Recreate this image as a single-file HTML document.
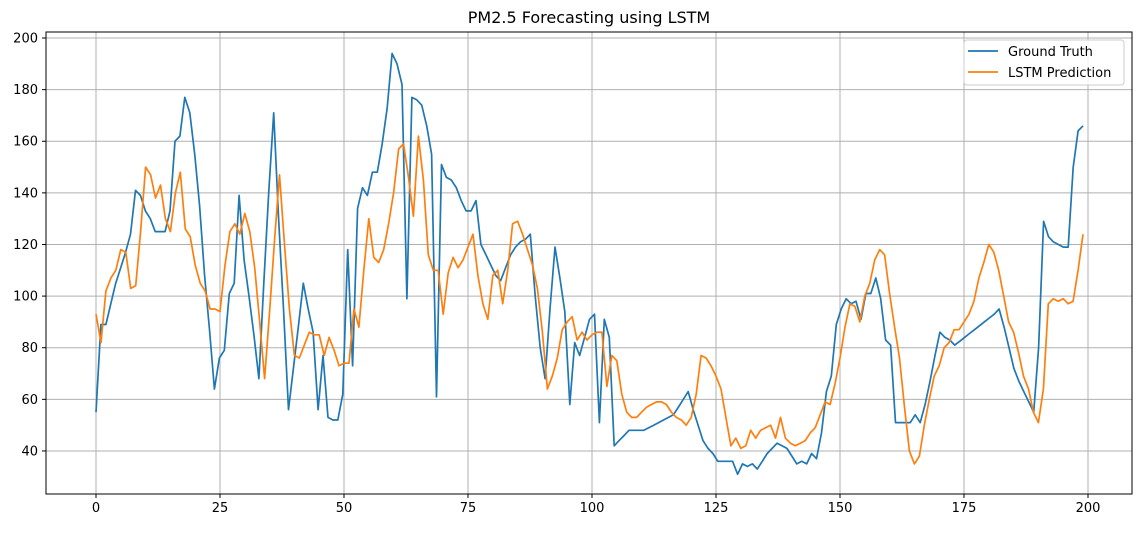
<!DOCTYPE html>
<html><head><meta charset="utf-8"><style>
body{margin:0;background:#fff;}
svg text{font-family:"DejaVu Sans","Liberation Sans",sans-serif;}
</style></head><body>
<svg id="s" width="1141" height="528" xmlns="http://www.w3.org/2000/svg">
<rect width="1141" height="528" fill="#fff"/>
<g id="grid" stroke="#b0b0b0" stroke-width="1"></g>
<g id="ticks" font-size="13" fill="#000"></g>
<polyline id="gt" fill="none" stroke="#1f77b4" stroke-width="1.7" stroke-linejoin="round"/>
<polyline id="lp" fill="none" stroke="#ff7f0e" stroke-width="1.7" stroke-linejoin="round"/>
<rect x="46" y="32" width="1086" height="462" fill="none" stroke="#000" stroke-width="1"/>
<text x="589" y="23" font-size="16" text-anchor="middle">PM2.5 Forecasting using LSTM</text>
<rect x="964" y="40" width="160" height="45" fill="#fff" fill-opacity="0.85" stroke="#ccc" rx="3"/>
<line x1="968" y1="51" x2="998" y2="51" stroke="#1f77b4" stroke-width="1.7"/>
<line x1="968" y1="72" x2="998" y2="72" stroke="#ff7f0e" stroke-width="1.7"/>
<text x="1008" y="56" font-size="13">Ground Truth</text>
<text x="1008" y="77" font-size="13">LSTM Prediction</text>
</svg>
<script>
var gt=[55,89,89,97,105,111,117,124,141,139,133,130,125,125,125,133,160,162,177,171,155,135,108,87,64,76,79,101,105,139,114,100,85,68,105,140,171,130,95,56,72,88,105,95,86,56,77,53,52,52,62,118,73,134,142,139,148,148,159,173,194,190,182,99,177,176,174,166,155,61,151,146,145,142,137,133,133,137,120,116,112,108,106,111,116,119,121,122,124,100,80,68,95,119,107,94,58,82,77,84,91,93,51,91,84,42,44,46,48,48,48,48,49,50,51,52,53,54,57,60,63,56,50,44,41,39,36,36,36,36,31,35,34,35,33,36,39,41,43,42,41,38,35,36,35,39,37,47,63,69,89,95,99,97,98,91,101,101,107,99,83,81,51,51,51,51,54,51,58,67,77,86,84,83,81,82.5,84,85.5,87,88.5,90,91.5,93,95,88,80,72,67,63,59,55,80,129,123,121,120,119,119,150,164,166];
var lp=[93,82,102,107,110,118,117,103,104,125,150,147,138,143,130,125,140,148,126,123,112,105,102,95,95,94,112,125,128,124,132,125,111,90,68,94,122,147,120,95,77,76,81,86,85,85,77,84,79,73,74,74,95,88,110,130,115,113,118,128,140,157,159,146,131,162,145,116,110,110,93,109,115,111,114,119,124,108,97,91,108,110,97,110,128,129,124,118,112,103,86,64,69,76,87,90,92,83,86,83,85,86,86,65,77,75,62,55,53,53,55,57,58,59,59,58,55,53,52,50,53,62,77,76,73,69,64,53,42,45,41,42,48,45,48,49,50,45,53,45,43,42,43,44,47,49,54,59,58,66,76,88,97,96,90,100,105,114,118,116,101,88,76,57,40,35,38,50,60,69,73,80,82,87,87,90,93,98,107,113,120,117,110,100,90,86,78,69,64,55,51,64,97,99,98,99,97,98,110,124];
function X(i){return 96+4.96*i;}function Y(v){return 554.2-2.581*v;}
function pts(a){var n=a.length,s=[];for(var i=0;i<n;i++){s.push(X(i*199/(n-1)).toFixed(1)+","+Y(a[i]).toFixed(1));}return s.join(" ");}
document.getElementById("gt").setAttribute("points",pts(gt));
document.getElementById("lp").setAttribute("points",pts(lp));
var g=document.getElementById("grid"),t=document.getElementById("ticks"),ns="http://www.w3.org/2000/svg";
function el(p,n,a,txt){var e=document.createElementNS(ns,n);for(var k in a)e.setAttribute(k,a[k]);if(txt!==undefined)e.textContent=txt;p.appendChild(e);}
for(var k=0;k<=8;k++){var x=96+124*k;el(g,"line",{x1:x,y1:32,x2:x,y2:494});el(g,"line",{x1:x,y1:494,x2:x,y2:498,stroke:"#000"});el(t,"text",{x:x,y:512,"text-anchor":"middle"},String(25*k));}
for(var v=40;v<=200;v+=20){var y=Y(v);el(g,"line",{x1:46,y1:y,x2:1132,y2:y});el(g,"line",{x1:42,y1:y,x2:46,y2:y,stroke:"#000"});el(t,"text",{x:38,y:y+4.5,"text-anchor":"end"},String(v));}
</script>
</body></html>
